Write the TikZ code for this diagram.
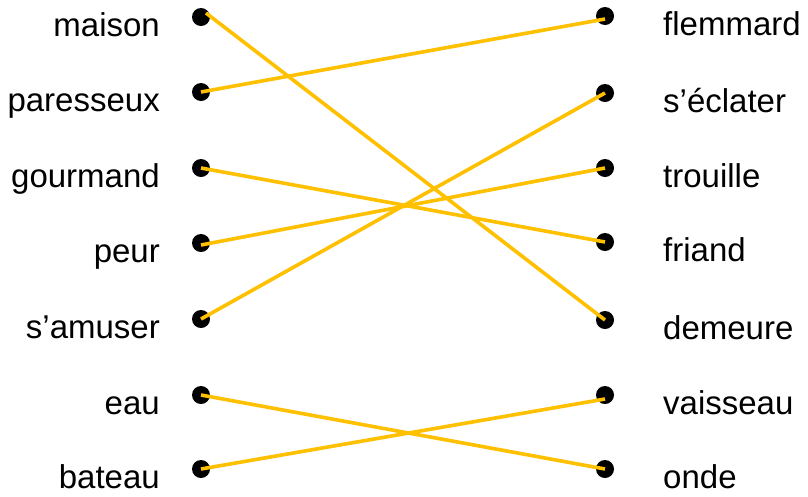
\documentclass[tikz,border=0pt]{standalone}
\usepackage{fontspec}
\setmainfont{Liberation Sans}
\definecolor{linkgold}{RGB}{255,192,0}
\begin{document}
\begin{tikzpicture}[x=1pt,y=-1pt,
  dot/.style={circle,fill=black,inner sep=0pt,minimum size=18pt},
  lword/.style={anchor=base east,inner sep=0pt,font=\fontsize{33}{39}\selectfont},
  rword/.style={anchor=base west,inner sep=0pt,font=\fontsize{33}{39}\selectfont},
  link/.style={draw=linkgold,line width=3.6pt}]
\useasboundingbox[fill=white] (0,0) rectangle (808,496);
% left column
\foreach \n/\y/\w in {1/17/maison,2/92/paresseux,3/168/gourmand,4/243/peur,5/319/s’amuser,6/395/eau,7/469/bateau}{
  \node[dot] (l\n) at (201,\y) {};
  \node[lword] (lw\n) at (160,\y+19) {\w};
}
% right column
\foreach \n/\y/\w in {1/16/flemmard,2/93/s’éclater,3/168/trouille,4/242/friand,5/320/demeure,6/395/vaisseau,7/469/onde}{
  \node[dot] (r\n) at (605,\y) {};
  \node[rword] (rw\n) at (663,\y+19) {\w};
}
% connectors
\draw[link] ([shift={(5,-4)}]l1.center) -- (r5.center);
\draw[link] (l2.center) -- ([shift={(0,3)}]r1.center);
\draw[link] (l3.center) -- (r4.center);
\draw[link] ([shift={(0,2)}]l4.center) -- (r3.center);
\draw[link] (l5.center) -- (r2.center);
\draw[link] (l6.center) -- (r7.center);
\draw[link] (l7.center) -- ([shift={(0,4)}]r6.center);
\end{tikzpicture}
\end{document}
